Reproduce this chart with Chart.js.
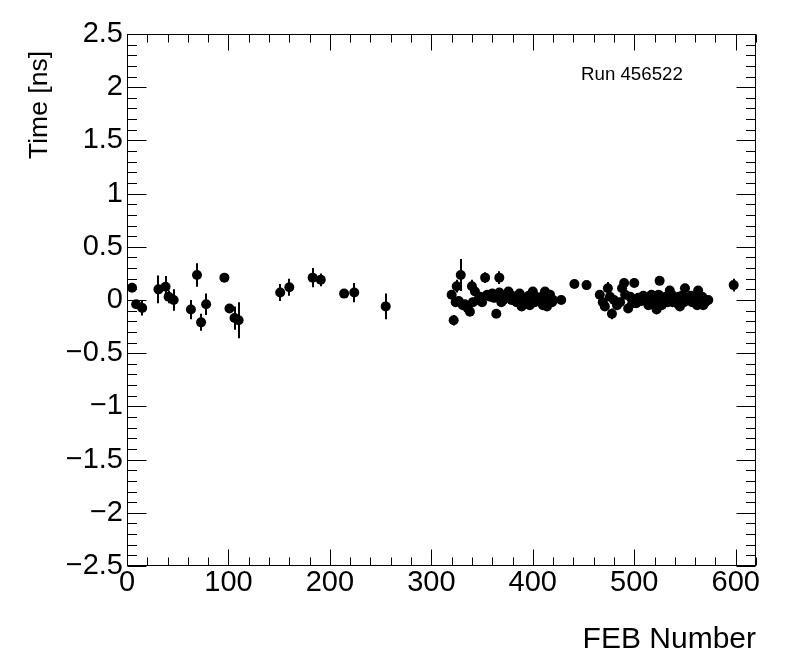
<!DOCTYPE html>
<html><head><meta charset="utf-8">
<script src="https://cdn.jsdelivr.net/npm/chart.js@4/dist/chart.umd.min.js"></script>
<style>html,body{margin:0;padding:0;background:#fff}#wrap{width:796px;height:672px}</style>
</head><body><div id="wrap"><canvas id="c" width="796" height="672"></canvas></div>
<script>
// ---- data ----
const febNumbers = [
  5,9,15,31,38,41,46,63,69,73,78,96,101,106,110,151,160,183,191,214,224,255,
  320,322,324,325,327,329,331,333,336,338,340,341,343,346,348,350,353,355,358,360,362,364,367,367,369,371,374,376,378,379,381,383,384,387,389,391,392,394,396,397,398,400,402,403,405,407,409,410,412,414,415,417,419,420,428,
  441,453,
  466,469,471,474,476,478,480,483,486,488,490,491,494,496,498,500,501,502,504,507,509,510,512,514,516,517,519,520,522,524,525,526,527,529,531,533,535,537,538,540,542,544,545,547,549,550,552,554,556,557,559,561,562,563,565,567,568,570,573,
  598
];
const timeValues = [
  0.115,-0.04,-0.075,0.10,0.125,0.03,0.0,-0.09,0.235,-0.21,-0.04,0.21,-0.08,-0.17,-0.19,0.07,0.12,0.21,0.19,0.06,0.07,-0.06,
  0.05,-0.19,-0.02,0.13,-0.01,0.235,-0.05,-0.04,-0.08,-0.11,0.13,-0.02,0.08,0.0,0.03,-0.02,0.21,0.05,0.03,0.06,0.02,-0.13,0.21,0.07,-0.02,0.0,0.04,0.08,0.05,0.0,0.01,0.03,-0.02,0.06,-0.06,0.02,-0.03,0.0,0.04,-0.05,0.02,0.08,-0.02,0.03,0.0,0.02,0.03,-0.05,0.08,-0.06,0.02,0.05,-0.02,0.0,0.0,
  0.15,0.14,
  0.05,-0.02,-0.06,0.11,0.03,-0.13,0.0,-0.05,-0.02,0.11,0.16,0.05,-0.08,0.03,-0.03,0.16,0.0,-0.03,0.02,-0.01,0.04,0.02,0.0,-0.05,0.02,0.05,0.03,-0.02,-0.09,0.05,0.18,0.02,-0.05,0.0,0.03,-0.02,0.09,0.05,-0.02,0.02,-0.03,0.03,-0.06,0.04,-0.02,0.11,0.02,0.0,0.04,-0.02,0.03,0.02,-0.05,0.09,0.0,0.03,-0.05,-0.02,0.0,
  0.14
];
const timeErrors = [
  0.03,0.03,0.07,0.13,0.10,0.06,0.10,0.09,0.11,0.08,0.10,0.03,0.03,0.11,0.17,0.08,0.08,0.09,0.06,0.03,0.09,0.12,
  0.04,0.05,0.04,0.06,0.04,0.15,0.04,0.04,0.04,0.04,0.06,0.04,0.04,0.04,0.04,0.04,0.05,0.04,0.04,0.04,0.04,0.04,0.06,0.04,0.04,0.04,0.04,0.04,0.04,0.04,0.04,0.04,0.04,0.04,0.04,0.04,0.04,0.04,0.04,0.04,0.04,0.04,0.04,0.04,0.04,0.04,0.04,0.04,0.04,0.04,0.04,0.04,0.04,0.04,0.03,
  0.03,0.04,
  0.04,0.04,0.04,0.06,0.04,0.05,0.04,0.04,0.04,0.04,0.04,0.04,0.04,0.04,0.04,0.04,0.04,0.04,0.04,0.04,0.04,0.04,0.04,0.04,0.04,0.04,0.04,0.04,0.04,0.04,0.04,0.04,0.04,0.04,0.04,0.04,0.04,0.04,0.04,0.04,0.04,0.04,0.04,0.04,0.04,0.04,0.04,0.04,0.04,0.04,0.04,0.04,0.04,0.04,0.04,0.04,0.04,0.04,0.04,
  0.06
];
const xMajorTicks = [0,100,200,300,400,500,600];
const xTickLabels = ['0','100','200','300','400','500','600'];
const yMajorTicks = [-2.5,-2,-1.5,-1,-0.5,0,0.5,1,1.5,2,2.5];
const yTickLabels = ['\u22122.5','\u22122','\u22121.5','\u22121','\u22120.5','0','0.5','1','1.5','2','2.5'];
const xTitle = 'FEB Number';
const yTitle = 'Time [ns]';
const runLabel = 'Run 456522';

const FONT = "'Liberation Sans', Arial, Helvetica, sans-serif";

function labelFor(v, majors, labels) {
  for (let i = 0; i < majors.length; i++) if (Math.abs(v - majors[i]) < 1e-6) return labels[i];
  return '';
}
function isMajor(v, majors) { return majors.some(m => Math.abs(v - m) < 1e-6); }

const points = febNumbers.map((x, i) => ({x: x, y: timeValues[i]}));

const rootPlugin = {
  id: 'rootStyle',
  beforeDatasetsDraw(chart) {
    const {ctx, scales: {x, y}} = chart;
    ctx.save();
    ctx.strokeStyle = '#000';
    ctx.lineWidth = 2;
    ctx.beginPath();
    for (let i = 0; i < febNumbers.length; i++) {
      const px = Math.round(x.getPixelForValue(febNumbers[i]));
      ctx.moveTo(px, y.getPixelForValue(timeValues[i] + timeErrors[i]));
      ctx.lineTo(px, y.getPixelForValue(timeValues[i] - timeErrors[i]));
    }
    ctx.stroke();
    ctx.restore();
  },
  afterDraw(chart) {
    const {ctx, chartArea: a, scales: {x, y}} = chart;
    ctx.save();
    ctx.strokeStyle = '#000';
    ctx.lineWidth = 1;
    const L = Math.round(a.left) + 0.5, R = Math.round(a.right) - 0.5;
    const T = Math.round(a.top) + 0.5, B = Math.round(a.bottom) - 0.5;
    ctx.strokeRect(L, T, R - L, B - T);
    ctx.beginPath();
    x.ticks.forEach(t => {
      const px = Math.round(x.getPixelForValue(t.value)) + 0.5;
      const len = isMajor(t.value, xMajorTicks) ? 16 : 8;
      ctx.moveTo(px, B); ctx.lineTo(px, B - len);
      ctx.moveTo(px, T); ctx.lineTo(px, T + len);
    });
    y.ticks.forEach(t => {
      const py = Math.round(y.getPixelForValue(t.value)) + 0.5;
      const len = isMajor(t.value, yMajorTicks) ? 19 : 9.5;
      ctx.moveTo(L, py); ctx.lineTo(L + len, py);
      ctx.moveTo(R, py); ctx.lineTo(R - len, py);
    });
    ctx.stroke();
    // y axis title
    ctx.fillStyle = '#000';
    ctx.font = '26.5px ' + FONT;
    ctx.translate(40, 51);
    ctx.rotate(-Math.PI / 2);
    ctx.textAlign = 'right';
    ctx.textBaseline = 'middle';
    ctx.fillText(yTitle, 0, 0);
    ctx.restore();
    // run label
    ctx.save();
    ctx.fillStyle = '#000';
    ctx.font = '18.7px ' + FONT;
    ctx.textAlign = 'left';
    ctx.textBaseline = 'alphabetic';
    ctx.fillText(runLabel, 581, 80);
    ctx.restore();
  }
};

new Chart(document.getElementById('c'), {
  type: 'scatter',
  data: {datasets: [{
    data: points,
    pointRadius: 5,
    pointHoverRadius: 5,
    backgroundColor: '#000',
    borderColor: '#000',
    borderWidth: 0
  }]},
  options: {
    responsive: false,
    animation: false,
    devicePixelRatio: 1,
    events: [],
    layout: {padding: {left: 0, right: 40, top: 34, bottom: 0}},
    plugins: {legend: {display: false}, tooltip: {enabled: false}},
    scales: {
      x: {
        type: 'linear', min: 0, max: 620,
        grid: {display: false, drawTicks: false},
        border: {display: false},
        ticks: {
          stepSize: 20, autoSkip: false, maxRotation: 0, padding: 0,
          color: '#000', font: {family: FONT, size: 29},
          callback: v => labelFor(v, xMajorTicks, xTickLabels)
        },
        title: {display: true, text: xTitle, align: 'end', color: '#000',
                font: {family: FONT, size: 30}, padding: {top: 0, bottom: 14}},
        afterFit: s => { s.height = 106; }
      },
      y: {
        type: 'linear', min: -2.5, max: 2.5,
        grid: {display: false, drawTicks: false},
        border: {display: false},
        ticks: {
          stepSize: 0.1, autoSkip: false, padding: 4,
          color: '#000', font: {family: FONT, size: 29},
          callback: v => labelFor(v, yMajorTicks, yTickLabels)
        },
        afterFit: s => { s.width = 127; }
      }
    }
  },
  plugins: [rootPlugin]
});
</script>
</body></html>
